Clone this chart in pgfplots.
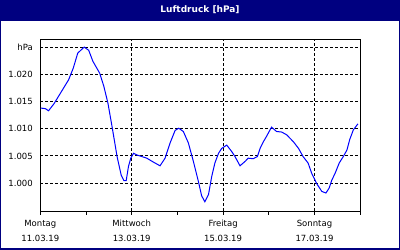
\documentclass[border=0pt]{standalone}
\usepackage{pgfplots}
\pgfplotsset{compat=1.18}
\usepackage{fontspec}
\setmainfont{DejaVu Sans}
\definecolor{navy}{RGB}{0,0,128}
\begin{document}
\begin{tikzpicture}[x=1bp,y=1bp]
\useasboundingbox (0,0) rectangle (400,250);
\fill[navy] (0,0) rectangle (400,250);
\fill[white] (1.5,2) rectangle (398.5,229.3);
\node[text=white,font=\fontsize{9bp}{10bp}\selectfont\bfseries] at (200,240.5) {Luftdruck [hPa]};
\begin{axis}[
  at={(40.3bp,39bp)}, anchor=south west,
  scale only axis, width=319.9bp, height=171bp,
  xmin=0, xmax=7, ymin=994.9, ymax=1026.3,
  axis line style={black, line width=1bp},
  xtick={0,2,4,6},
  minor xtick={1,3,5,7},
  xticklabels={{Montag\\11.03.19},{Mittwoch\\13.03.19},{Freitag\\15.03.19},{Sonntag\\17.03.19}},
  ytick={1000,1005,1010,1015,1020,1025},
  yticklabels={1.000,1.005,1.010,1.015,1.020,hPa},
  xtick pos=bottom, ytick pos=left,
  tick align=outside,
  major tick length=3.5bp, minor tick length=3.5bp,
  every tick/.style={black, line width=1bp},
  ytick style={draw=none},
  xmajorgrids, ymajorgrids,
  major grid style={black, line width=1bp, dash pattern=on 3bp off 2bp},
  tick label style={font=\fontsize{8.5bp}{14.5bp}\selectfont, text=black},
  xticklabel style={align=center, yshift=-2.5bp},
  yticklabel style={xshift=-0.5bp},
]
\addplot[blue, line width=1bp] coordinates {
(0.01,1013.8) (0.11,1013.7) (0.18,1013.3) (0.30,1014.6) (0.46,1016.8)
(0.62,1019.0) (0.72,1021.1) (0.82,1023.9) (0.96,1025.0) (1.06,1024.4)
(1.15,1022.4) (1.30,1020.2) (1.39,1017.8) (1.48,1014.7) (1.57,1010.4)
(1.68,1004.9) (1.77,1001.5) (1.83,1000.5) (1.88,1000.5) (1.93,1003.1)
(1.98,1004.6) (2.04,1005.5) (2.11,1005.2) (2.22,1004.9) (2.33,1004.6)
(2.47,1003.9) (2.62,1003.2) (2.73,1004.6) (2.84,1007.4) (2.95,1009.7)
(3.03,1010.1) (3.13,1009.5) (3.24,1007.4) (3.35,1004.0) (3.46,1000.3)
(3.53,997.7) (3.60,996.6) (3.68,997.9) (3.75,1001.2) (3.82,1003.7)
(3.90,1005.5) (3.97,1006.4) (4.08,1007.0) (4.19,1005.8) (4.26,1004.9)
(4.37,1003.2) (4.48,1004.0) (4.55,1004.6) (4.66,1004.5) (4.75,1004.9)
(4.81,1006.4) (4.88,1007.6) (4.95,1008.6) (5.06,1010.3) (5.17,1009.5)
(5.28,1009.4) (5.39,1008.9) (5.54,1007.6) (5.65,1006.4) (5.75,1004.9)
(5.86,1003.7) (5.94,1001.8) (6.05,999.9) (6.16,998.5) (6.25,998.2)
(6.32,999.1) (6.38,1000.6) (6.45,1001.8) (6.54,1003.7) (6.63,1004.9)
(6.71,1006.1) (6.77,1008.0) (6.85,1009.8) (6.95,1010.9)
};
\end{axis}
\end{tikzpicture}
\end{document}
